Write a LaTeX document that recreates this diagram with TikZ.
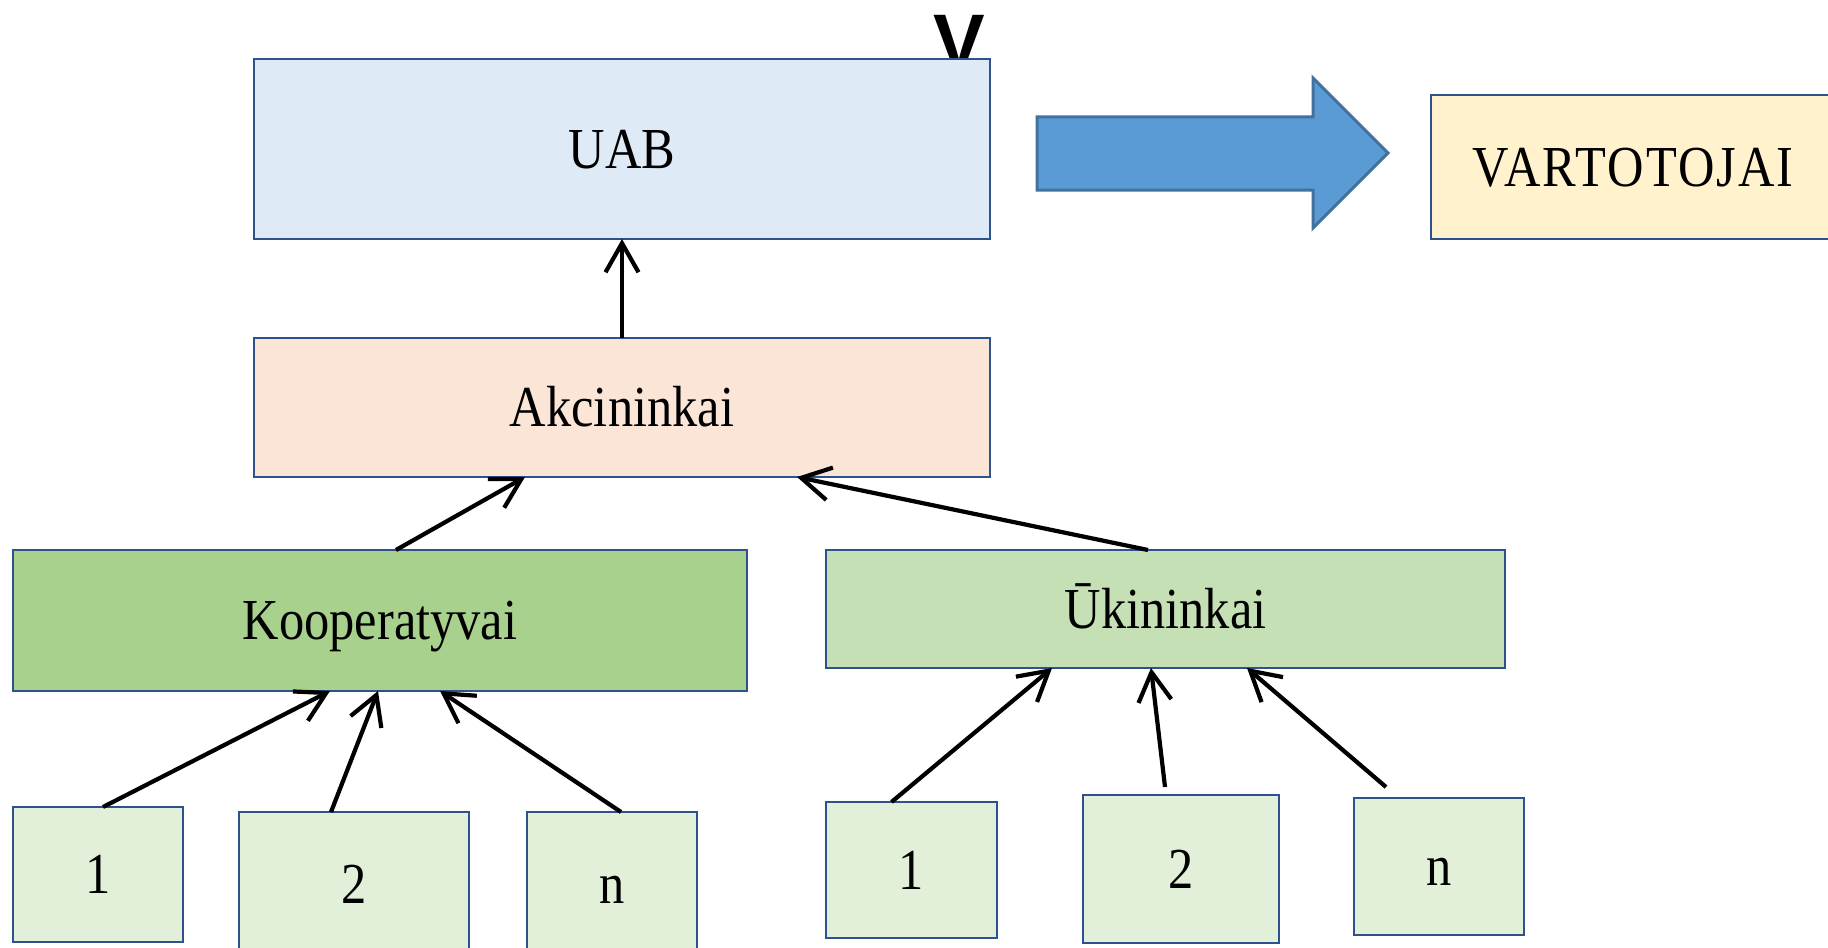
\documentclass[tikz,border=0pt]{standalone}
\usepackage{fontspec}
\setmainfont{Liberation Serif}[FakeStretch=0.87]
\newfontfamily\vfont{Liberation Sans}
\usetikzlibrary{arrows.meta}

\definecolor{boxline}{HTML}{2F528F}
\definecolor{uabfill}{HTML}{DEEBF7}
\definecolor{akcfill}{HTML}{FBE5D6}
\definecolor{koopfill}{HTML}{A9D18E}
\definecolor{ukinfill}{HTML}{C5E0B4}
\definecolor{narysfill}{HTML}{E2F0D9}
\definecolor{vartfill}{HTML}{FFF2CC}
\definecolor{rodfill}{HTML}{5B9BD5}
\definecolor{rodline}{HTML}{41719C}

\tikzset{
  blok/.style={draw=boxline, line width=0.15mm, inner sep=0pt, outer sep=0pt,
    font=\fontsize{16.5}{19}\selectfont, text height=10.9pt, text depth=0pt},
  narys/.style={blok, fill=narysfill},
  ryssys/.style={line width=1.2pt, -{Straight Barb[length=2.9mm, width=3.3mm]}},
  rodykle/.style={fill=rodfill, draw=rodline, line width=0.3mm, line join=miter}
}

\begin{document}
\begin{tikzpicture}
  \useasboundingbox (0mm, 0mm) rectangle (182.8mm, -94.7mm);

  \node[font=\vfont\bfseries\fontsize{22}{22}\selectfont, inner sep=0pt, anchor=base] (v) at (95.9mm, -6.9mm) {V};

  % virsus
  \node[blok, fill=uabfill, minimum width=73.6mm, minimum height=18mm] (uab) at (62.2mm, -14.9mm) {UAB};
  \node[blok, fill=vartfill, minimum width=40.4mm, minimum height=14.4mm,
    font=\fontsize{16.5}{19}\selectfont\addfontfeature{LetterSpace=3.6}] (vart) at (163.3mm, -16.7mm) {VARTOTOJAI};
  \draw[rodykle] (103.7mm, -11.7mm) -- (131.3mm, -11.7mm) -- (131.3mm, -7.8mm) -- (138.8mm, -15.3mm)
    -- (131.3mm, -22.8mm) -- (131.3mm, -19mm) -- (103.7mm, -19mm) -- cycle;

  \node[blok, fill=akcfill, minimum width=73.6mm, minimum height=13.9mm] (akc) at (62.2mm, -40.75mm) {Akcininkai};
  \node[blok, fill=koopfill, minimum width=73.4mm, minimum height=14.1mm] (koop) at (38mm, -62.05mm) {Kooperatyvai};
  \node[blok, fill=ukinfill, minimum width=67.9mm, minimum height=11.8mm] (ukin) at (116.55mm, -60.9mm) {Ūkininkai};

  % nariai
  \node[narys, minimum width=17mm, minimum height=13.5mm] (k1) at (9.8mm, -87.45mm) {1};
  \node[narys, minimum width=23mm, minimum height=14.4mm] (k2) at (35.4mm, -88.4mm) {2};
  \node[narys, minimum width=17mm, minimum height=14.4mm] (kn) at (61.2mm, -88.4mm) {n};
  \node[narys, minimum width=17.1mm, minimum height=13.6mm] (u1) at (91.15mm, -87mm) {1};
  \node[narys, minimum width=19.6mm, minimum height=14.8mm] (u2) at (118.1mm, -86.9mm) {2};
  \node[narys, minimum width=17mm, minimum height=13.7mm] (un) at (143.9mm, -86.65mm) {n};

  \draw[ryssys] (akc.north) -- (uab.south);
  \draw[ryssys] ([xshift=1.6mm]koop.north) -- ([xshift=-9.7mm]akc.south);
  \draw[ryssys] ([xshift=-1.75mm]ukin.north) -- ([xshift=17.5mm]akc.south);

  \draw[ryssys] ([xshift=0.5mm]k1.north) -- ([xshift=-5mm]koop.south);
  \draw[ryssys] ([xshift=-2.3mm]k2.north) -- ([xshift=-0.2mm]koop.south);
  \draw[ryssys] ([xshift=0.9mm]kn.north) -- ([xshift=6mm]koop.south);

  \draw[ryssys] ([xshift=-2mm]u1.north) -- ([xshift=-11.35mm]ukin.south);
  \draw[ryssys] ([xshift=-1.6mm, yshift=0.8mm]u2.north) -- ([xshift=-1.45mm]ukin.south);
  \draw[ryssys] ([xshift=-5.3mm, yshift=1.1mm]un.north) -- ([xshift=8.15mm]ukin.south);
\end{tikzpicture}
\end{document}
